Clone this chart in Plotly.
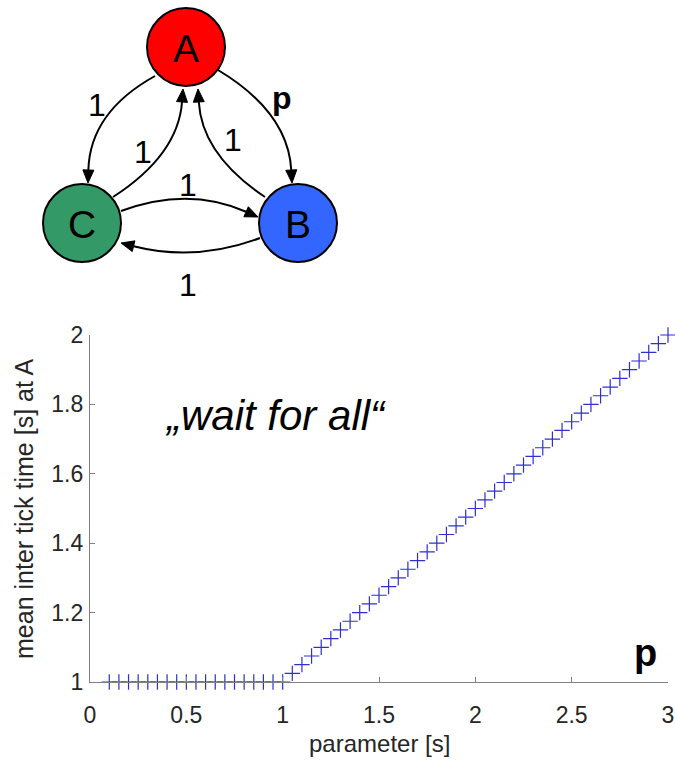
import math
import plotly.graph_objects as go

# ---- measured mean inter-tick time at node A vs. parameter p ----
param_s = [0.10, 0.15, 0.20, 0.25, 0.30, 0.35, 0.40, 0.45, 0.50, 0.55,
           0.60, 0.65, 0.70, 0.75, 0.80, 0.85, 0.90, 0.95, 1.00,
           1.05, 1.10, 1.15, 1.20, 1.25, 1.30, 1.35, 1.40, 1.45, 1.50,
           1.55, 1.60, 1.65, 1.70, 1.75, 1.80, 1.85, 1.90, 1.95, 2.00,
           2.05, 2.10, 2.15, 2.20, 2.25, 2.30, 2.35, 2.40, 2.45, 2.50,
           2.55, 2.60, 2.65, 2.70, 2.75, 2.80, 2.85, 2.90, 2.95, 3.00]
tick_time_a = [1.000, 1.000, 1.000, 1.000, 1.000, 1.000, 1.000, 1.000, 1.000, 1.000,
               1.000, 1.000, 1.000, 1.000, 1.000, 1.000, 1.000, 1.000, 1.000,
               1.025, 1.050, 1.075, 1.100, 1.125, 1.150, 1.175, 1.200, 1.225, 1.250,
               1.275, 1.300, 1.325, 1.350, 1.375, 1.400, 1.425, 1.450, 1.475, 1.500,
               1.525, 1.550, 1.575, 1.600, 1.625, 1.650, 1.675, 1.700, 1.725, 1.750,
               1.775, 1.800, 1.825, 1.850, 1.875, 1.900, 1.925, 1.950, 1.975, 2.000]

x_ticks = [0, 0.5, 1, 1.5, 2, 2.5, 3]
x_tick_text = ["0", "0.5", "1", "1.5", "2", "2.5", "3"]
y_ticks = [1, 1.2, 1.4, 1.6, 1.8, 2]
y_tick_text = ["1", "1.2", "1.4", "1.6", "1.8", "2"]

# ---- network diagram: nodes and weighted edges ----
node_names = ["A", "B", "C"]
node_colors = ["#ff0000", "#3366ff", "#339966"]
edge_labels = ["1", "p", "1", "1", "1", "1"]   # A->C, A->B, C->A, B->A, C->B, B->C

W, H = 675, 760
FONT = "Liberation Sans, Arial, sans-serif"

fig = go.Figure()

fig.add_trace(go.Scatter(
    x=param_s, y=tick_time_a, mode="markers",
    marker=dict(symbol="cross-thin", size=11,
                line=dict(color="#2f2fd0", width=1.2)),
    cliponaxis=False, showlegend=False, xaxis="x", yaxis="y",
))

# Overlay a pixel-space axis pair used for the diagram and free text.
fig.add_trace(go.Scatter(x=[None], y=[None], xaxis="x2", yaxis="y2",
                         showlegend=False, hoverinfo="skip"))

shapes = []
annotations = []

# node geometry (pixel space of the overlay axes)
node_pos = {"A": (186, 47), "B": (298, 223), "C": (82, 223)}
node_r = 39


def curved_arrow(p0, ctrl, tip, head_len=13, head_w=11):
    dx, dy = tip[0] - ctrl[0], tip[1] - ctrl[1]
    n = math.hypot(dx, dy)
    ux, uy = dx / n, dy / n
    bx, by = tip[0] - head_len * ux, tip[1] - head_len * uy
    px, py = -uy, ux
    shapes.append(dict(type="path", xref="x2", yref="y2", layer="above",
                       path=f"M {p0[0]},{p0[1]} Q {ctrl[0]},{ctrl[1]} {bx},{by}",
                       line=dict(color="black", width=2)))
    tri = (f"M {tip[0]},{tip[1]} L {bx + px * head_w / 2},{by + py * head_w / 2} "
           f"L {bx - px * head_w / 2},{by - py * head_w / 2} Z")
    shapes.append(dict(type="path", xref="x2", yref="y2", layer="above",
                       path=tri, fillcolor="black", line=dict(color="black", width=1)))


# edges: start, control point, arrow tip, label position
edges = [
    ((155, 76), (90, 112), (88, 183), (97, 105)),     # A -> C
    ((218, 70), (288, 112), (292, 183), (282, 98)),   # A -> B
    ((113, 197), (178, 155), (183, 89), (143, 152)),  # C -> A
    ((265, 197), (202, 155), (198, 89), (233, 140)),  # B -> A
    ((121, 211), (188, 186), (258, 217), (188, 185)), # C -> B
    ((260, 238), (196, 262), (121, 243), (188, 285)), # B -> C
]
for (p0, c, tip, lab), text in zip(edges, edge_labels):
    curved_arrow(p0, c, tip)
    bold = text == "p"
    annotations.append(dict(
        x=lab[0], y=lab[1], xref="x2", yref="y2", showarrow=False,
        text=f"<b>{text}</b>" if bold else text,
        font=dict(family=FONT, size=32, color="black")))

for name, color in zip(node_names, node_colors):
    cx, cy = node_pos[name]
    shapes.append(dict(type="circle", xref="x2", yref="y2", layer="above",
                       x0=cx - node_r, x1=cx + node_r, y0=cy - node_r, y1=cy + node_r,
                       fillcolor=color, line=dict(color="black", width=2)))
    annotations.append(dict(x=cx, y=cy + 1, xref="x2", yref="y2", showarrow=False,
                            text=name, font=dict(family=FONT, size=39, color="black")))

# chart texts
annotations += [
    dict(x=275, y=415, xref="x2", yref="y2", showarrow=False,
         text="<i>\u201ewait for all\u201c</i>",
         font=dict(family=FONT, size=42, color="black")),
    dict(x=645, y=653, xref="x2", yref="y2", showarrow=False,
         text="<b>p</b>", font=dict(family=FONT, size=38, color="black")),
    dict(x=379, y=743, xref="x2", yref="y2", showarrow=False,
         text="parameter [s]", font=dict(family=FONT, size=24, color="#262626")),
    dict(x=24, y=509, xref="x2", yref="y2", showarrow=False, textangle=-90,
         text="mean inter tick time [s] at A",
         font=dict(family=FONT, size=25, color="#262626")),
]

axis_common = dict(showgrid=False, zeroline=False, showline=True,
                   linecolor="#808080", linewidth=1.2, ticks="inside",
                   ticklen=5, tickcolor="#808080", tickwidth=1, automargin=False,
                   tickfont=dict(family=FONT, size=23, color="#262626"))

fig.update_layout(
    width=W, height=H,
    margin=dict(l=0, r=0, t=0, b=0, autoexpand=False),
    paper_bgcolor="white", plot_bgcolor="rgba(0,0,0,0)", showlegend=False,
    xaxis=dict(domain=[90 / W, 668 / W], range=[0, 3], anchor="y",
               tickvals=x_ticks, ticktext=x_tick_text, ticklabelstandoff=12,
               **axis_common),
    yaxis=dict(domain=[1 - 682 / H, 1 - 335 / H], range=[1, 2], anchor="x",
               tickvals=y_ticks, ticktext=y_tick_text, ticklabelstandoff=1,
               **axis_common),
    xaxis2=dict(domain=[0, 1], range=[0, W], anchor="y2", visible=False,
                automargin=False),
    yaxis2=dict(domain=[0, 1], range=[H, 0], anchor="x2", visible=False,
                automargin=False),
    shapes=shapes,
    annotations=annotations,
)

fig.write_html("out.html")
